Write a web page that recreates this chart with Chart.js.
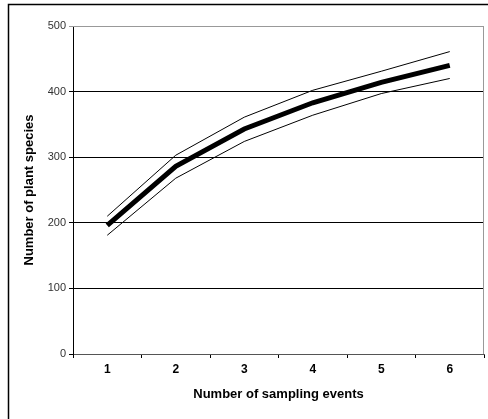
<!DOCTYPE html>
<html>
<head>
<meta charset="utf-8">
<script src="https://cdn.jsdelivr.net/npm/chart.js@4"></script>
<style>
html,body{margin:0;padding:0;background:#fff;}
#wrap{width:488px;height:419px;position:relative;}
</style>
</head>
<body>
<div id="wrap"><canvas id="c"></canvas></div>
<script>
const categories = ['1','2','3','4','5','6'];
const meanSpecies = [196, 286, 343, 383, 414, 440];
const upperSpecies = [210, 303, 361, 402, 431, 461];
const lowerSpecies = [181, 268, 324, 364, 397, 420];
const yTicks = [0, 100, 200, 300, 400, 500];

const frame = {
  id: 'frame',
  afterDraw(chart) {
    const ctx = chart.ctx, a = chart.chartArea;
    ctx.save();
    ctx.strokeStyle = '#000';
    ctx.lineWidth = 1.5;
    ctx.beginPath();
    ctx.moveTo(8.5, 419); ctx.lineTo(8.5, 4.5); ctx.lineTo(488, 4.5);
    ctx.stroke();
    ctx.strokeStyle = '#999';
    ctx.lineWidth = 1;
    ctx.beginPath();
    ctx.moveTo(a.left, a.top + 0.5); ctx.lineTo(a.right - 0.5, a.top + 0.5); ctx.lineTo(a.right - 0.5, a.bottom);
    ctx.stroke();
    ctx.restore();
  }
};

new Chart(document.getElementById('c'), {
  type: 'line',
  data: {
    labels: categories,
    datasets: [
      {data: upperSpecies, borderColor: '#000', borderWidth: 1, pointRadius: 0, tension: 0, fill: false},
      {data: lowerSpecies, borderColor: '#000', borderWidth: 1, pointRadius: 0, tension: 0, fill: false},
      {data: meanSpecies, borderColor: '#000', borderWidth: 5, pointRadius: 0, tension: 0, fill: false}
    ]
  },
  options: {
    responsive: true,
    maintainAspectRatio: false,
    animation: false,
    events: [],
    layout: {padding: {left: 9, top: 26, right: 4, bottom: 0}},
    plugins: {legend: {display: false}, tooltip: {enabled: false}},
    scales: {
      x: {
        offset: true,
        grid: {offset: true, drawOnChartArea: false, drawTicks: true, tickLength: 4, color: '#000'},
        border: {color: '#555', width: 1},
        ticks: {color: '#000', font: {family: 'Liberation Sans, Arial', size: 12, weight: 'bold'}, padding: 4, maxRotation: 0},
        title: {display: true, text: 'Number of sampling events', color: '#000',
                font: {family: 'Liberation Sans, Arial', size: 13, weight: 'bold'}, padding: {top: 0, bottom: 17}},
        afterFit(s) { s.height = 65; }
      },
      y: {
        min: 0, max: 500,
        afterBuildTicks(s) { s.ticks = yTicks.map(v => ({value: v})); },
        grid: {color: (c) => (c.tick && c.tick.value === 500) ? '#999' : '#000', tickLength: 4, drawTicks: true},
        border: {color: '#000', width: 1},
        ticks: {color: '#333', font: {family: 'Liberation Sans, Arial', size: 11}, padding: 3},
        title: {display: true, text: 'Number of plant species', color: '#000',
                font: {family: 'Liberation Sans, Arial', size: 13, weight: 'bold'}, padding: {top: 13, bottom: 0}},
        afterFit(s) { s.width = 64; }
      }
    }
  },
  plugins: [frame]
});
</script>
</body>
</html>
